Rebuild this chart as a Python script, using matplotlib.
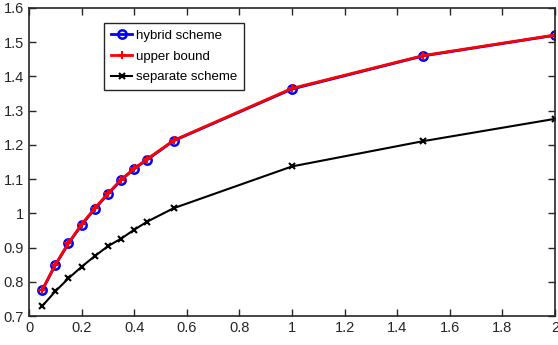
import numpy as np
import matplotlib.pyplot as plt

plt.rcParams['font.family'] = ['Liberation Sans', 'DejaVu Sans']

# data
x = [0.05, 0.1, 0.15, 0.2, 0.25, 0.3, 0.35, 0.4, 0.45, 0.55, 1.0, 1.5, 2.0]
hybrid = [0.775, 0.849, 0.912, 0.966, 1.013, 1.056, 1.097, 1.130, 1.157, 1.212, 1.363, 1.460, 1.520]
upper = [0.776, 0.850, 0.913, 0.968, 1.015, 1.058, 1.098, 1.131, 1.159, 1.213, 1.365, 1.461, 1.521]
separate = [0.729, 0.772, 0.810, 0.844, 0.875, 0.904, 0.926, 0.952, 0.976, 1.015, 1.137, 1.211, 1.276]

fig = plt.figure(figsize=(5.58, 3.45), dpi=100)
ax = fig.add_axes([0.052, 0.084, 0.9426, 0.893])

ax.plot(x, hybrid, color='blue', lw=2, marker='o', ms=6, mfc='none', mew=1.8,
        label='hybrid scheme')
ax.plot(x, upper, color='red', lw=2, marker='+', ms=6, mew=1.5, label='upper bound')
ax.plot(x, separate, color='black', lw=1.5, marker='x', ms=4, mew=1.5,
        label='separate scheme')

ax.set_xlim(0, 2)
ax.set_ylim(0.7, 1.6)
ax.set_xticks(np.arange(0, 2.01, 0.2))
ax.set_xticklabels(['0', '0.2', '0.4', '0.6', '0.8', '1', '1.2', '1.4', '1.6', '1.8', '2'])
ax.set_yticks(np.arange(0.7, 1.61, 0.1))
ax.set_yticklabels(['0.7', '0.8', '0.9', '1', '1.1', '1.2', '1.3', '1.4', '1.5', '1.6'])
ax.tick_params(direction='in', top=True, right=True, length=5, width=1,
               labelsize=10.5, colors='#262626')
for s in ax.spines.values():
    s.set_linewidth(1.2)
    s.set_color('#262626')

leg = ax.legend(loc='upper left', bbox_to_anchor=(0.1426, 0.951), fontsize=9.5,
                fancybox=False, framealpha=1, edgecolor='#262626',
                handlelength=1.65, handletextpad=0.3, borderpad=0.5,
                labelspacing=0.65, borderaxespad=0)
leg.get_frame().set_linewidth(1.0)

fig.savefig('out.png', dpi=100)
